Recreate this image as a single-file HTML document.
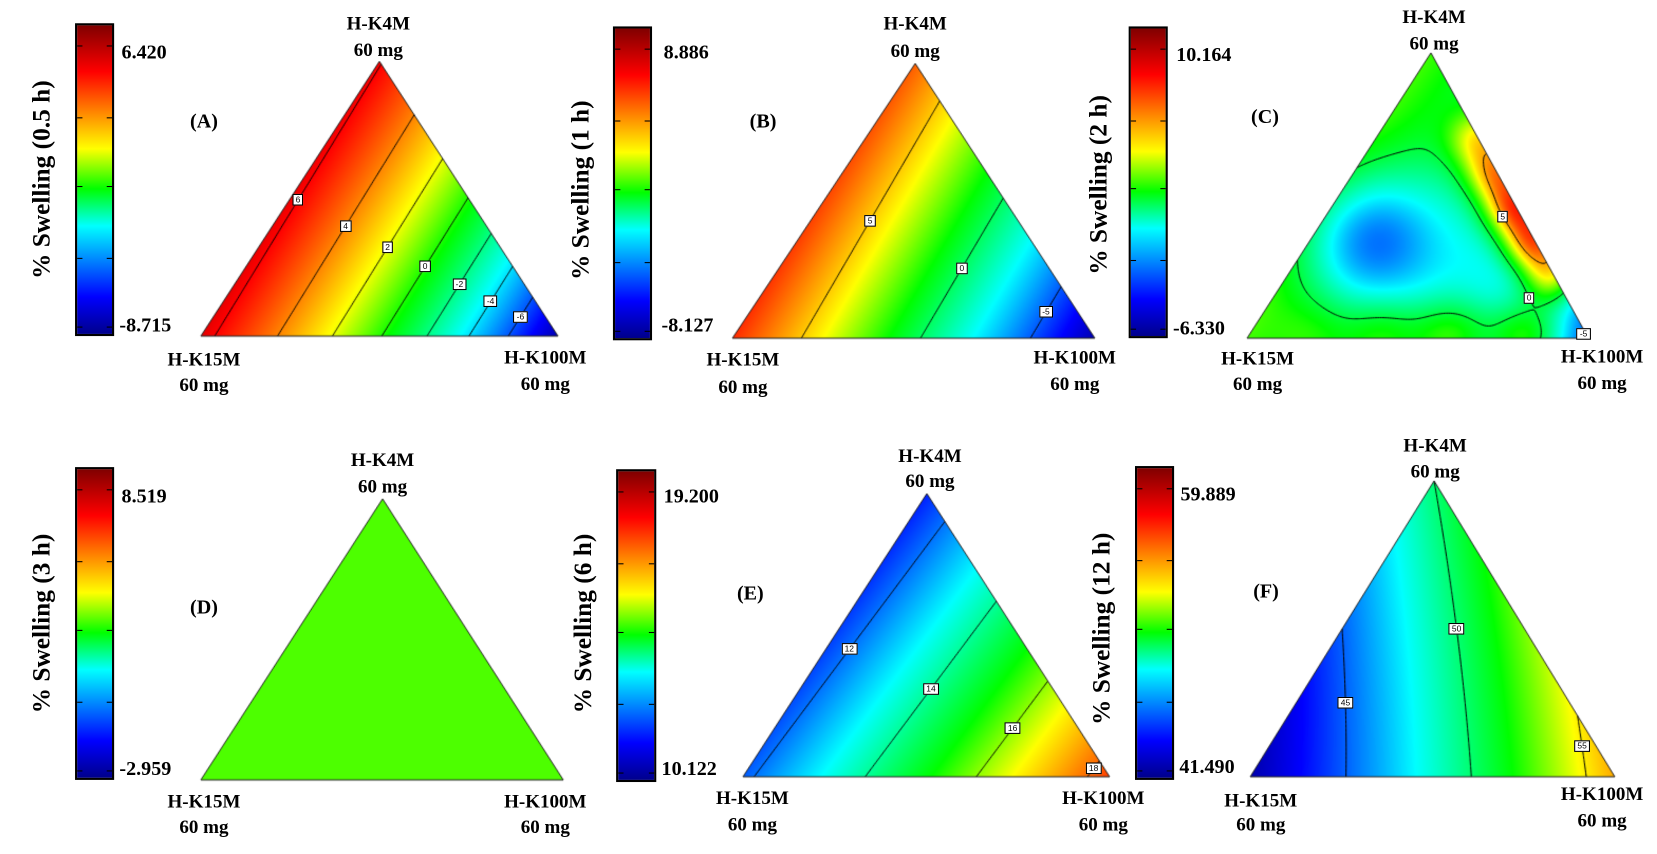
<!DOCTYPE html>
<html><head><meta charset="utf-8">
<style>
body{margin:0;background:#fff;width:1657px;height:853px;overflow:hidden;}
#wrap{position:absolute;left:0;top:0;width:1568px;height:808px;transform:scale(1.0568);transform-origin:0 0;overflow:hidden;background:#fff;font-family:"Liberation Serif",serif;font-weight:bold;color:#000;}
.t{position:absolute;white-space:nowrap;transform:translate(-50%,-50%);font-size:18px;line-height:1;}
.v{position:absolute;white-space:nowrap;transform:translateY(-50%);font-size:19px;line-height:1;}
.ttl{position:absolute;white-space:nowrap;transform:translate(-50%,-50%) rotate(-90deg);font-size:24px;line-height:1;}
.let{position:absolute;white-space:nowrap;transform:translate(-50%,-50%);font-size:19px;line-height:1;}
.bar{position:absolute;border:2px solid #000;box-sizing:border-box;
background:linear-gradient(to top,rgb(0,0,140) 0%,rgb(0,0,255) 12%,rgb(0,255,255) 35%,rgb(0,255,0) 47%,rgb(255,255,0) 60%,rgb(255,0,0) 85%,rgb(128,0,0) 100%);}
.tick{position:absolute;width:5px;height:1px;background:#000;}
.cl{position:absolute;transform:translate(-50%,-50%);background:#fff;border:1px solid #000;font-family:"Liberation Sans",sans-serif;font-weight:normal;font-size:8px;line-height:9px;padding:0 2px;}
canvas{position:absolute;left:0;top:0;}
</style></head><body>
<div id="wrap">
<canvas id="cv" width="1568" height="808"></canvas>
</div>
<script>
// Mixture model coefficients: [b1(K4M), b2(K15M), b3(K100M), b12, b13, b23, b123, g13, g23]
const coefA = [6.1, 6.4, -8.7, 0, 5, 5, 0, 0, 0];
const coefB = [6.8, 7.7, -8.1, 0, 2, 2, 0, 0, 0];
const coefC = [1.5, 1.5, -6.0, 0, 0, 0, 0, 0, 0];
const coefD = [4.0, 4.0, 4.0, 0, 0, 0, 0, 0, 0];
const coefE = [11.3, 11.8, 18.4, 0, 0, 0, 0, 0, 0];
const coefF = [50, 41.5, 56.3, -3, 0, -2, 0, 0, 0];
// local response features for panel C (barycentric centres, amplitudes, widths)
const bumpCentersC = [[0.35,0.48,0.17],
  [0.70,0,0.30],[0.58,0,0.42],[0.46,0,0.54],[0.34,0,0.66],[0.22,0,0.78],
  [0,0.8,0.2],[0,0.6,0.4],[0,0.4,0.6],[0,0.18,0.82]];
const bumpAmpsC = [-5.0, 4, 5.7, 7.5, 7.8, 6.3, 1.3, 2.7, 4, 5.4];
const bumpWidthsC = [0.2, 0.09, 0.09, 0.09, 0.09, 0.09, 0.12, 0.12, 0.12, 0.12];
const rangeA = [-8.715, 6.420];
const rangeB = [-8.127, 8.886];
const rangeC = [-6.330, 10.164];
const rangeD = [-2.959, 8.519];
const rangeE = [10.122, 19.200];
const rangeF = [41.490, 59.889];
const levelsA = [-6, -4, -2, 0, 2, 4, 6];
const levelsB = [-5, 0, 5];
const levelsC = [-5, 0, 5];
const levelsD = [];
const levelsE = [12, 14, 16, 18];
const levelsF = [45, 50, 55];
const titles = ["% Swelling (0.5 h)","% Swelling (1 h)","% Swelling (2 h)","% Swelling (3 h)","% Swelling (6 h)","% Swelling (12 h)"];
const letters = ["(A)","(B)","(C)","(D)","(E)","(F)"];

const noBumps={c:[],a:[],w:[]};
const layout = [
 {id:'a',coef:coefA,bumps:noBumps,range:rangeA,levels:levelsA,shift:0,bar:[71,22,37,296],tri:[[359,58],[190,318],[528,318]],maxY:50,minY:308,maxX:115,minX:113,ttl:[40,170],let:[193,115],top:[358,22,47],left:[193,340,364],right:[516,338,363]},
 {id:'b',coef:coefB,bumps:noBumps,range:rangeB,levels:levelsB,shift:0,bar:[580,25,37,297],tri:[[866,60],[693,320],[1036,320]],maxY:50,minY:308,maxX:628,minX:626,ttl:[550,180],let:[722,115],top:[866,22,48],left:[703,340,366],right:[1017,338,363]},
 {id:'c',coef:coefC,bumps:{c:bumpCentersC,a:bumpAmpsC,w:bumpWidthsC},range:rangeC,levels:levelsC,shift:2,bar:[1068,25,37,295],tri:[[1354,50],[1180,320],[1503,320]],maxY:52,minY:311,maxX:1113,minX:1110,ttl:[1040,175],let:[1197,111],top:[1357,16,41],left:[1190,339,363],right:[1516,337,362]},
 {id:'d',coef:coefD,bumps:noBumps,range:rangeD,levels:levelsD,shift:0,bar:[71,442,37,296],tri:[[362,472],[190,738],[533,738]],maxY:470,minY:728,maxX:115,minX:113,ttl:[40,590],let:[193,575],top:[362,435,460],left:[193,758,782],right:[516,758,782]},
 {id:'e',coef:coefE,bumps:noBumps,range:rangeE,levels:levelsE,shift:0,bar:[583,444,38,296],tri:[[877,467],[703,735],[1050,735]],maxY:470,minY:728,maxX:628,minX:626,ttl:[552,590],let:[710,562],top:[880,431,455],left:[712,755,780],right:[1044,755,780]},
 {id:'f',coef:coefF,bumps:noBumps,range:rangeF,levels:levelsF,shift:0,bar:[1074,441,37,297],tri:[[1357,455],[1183,735],[1528,735]],maxY:468,minY:726,maxX:1117,minX:1116,ttl:[1043,595],let:[1198,560],top:[1358,421,446],left:[1193,757,780],right:[1516,751,776]}
];

const stops=[[0,[0,0,140]],[0.12,[0,0,255]],[0.33,[0,255,255]],[0.52,[0,255,0]],[0.66,[255,255,0]],[0.88,[255,0,0]],[1,[128,0,0]]];
function cmap(p){p=Math.max(0,Math.min(1,p));for(let i=1;i<stops.length;i++){if(p<=stops[i][0]){const a=stops[i-1],b=stops[i];const f=(p-a[0])/(b[0]-a[0]);return [0,1,2].map(k=>a[1][k]+(b[1][k]-a[1][k])*f);}}return stops[stops.length-1][1];}
function cart(x1,x2,x3){return [x3+0.5*x1,0.866*x1];}
function field(c,B,x1,x2,x3){
  let v=c[0]*x1+c[1]*x2+c[2]*x3+c[3]*x1*x2+c[4]*x1*x3+c[5]*x2*x3+c[6]*x1*x2*x3+c[7]*x1*x3*(x1-x3)+c[8]*x2*x3*(x2-x3);
  if(B.c.length){const p=cart(x1,x2,x3);for(let i=0;i<B.c.length;i++){const q=cart(B.c[i][0],B.c[i][1],B.c[i][2]);const d2=(p[0]-q[0])**2+(p[1]-q[1])**2;v+=B.a[i]*Math.exp(-d2/(B.w[i]*B.w[i]));}}
  return v;}
function colorPos(v,r){return 0.034+0.871*(v-r[0])/(r[1]-r[0]);}

const wrap=document.getElementById('wrap');
const cv=document.getElementById('cv');const ctx=cv.getContext('2d');
function addDiv(cls,txt,x,y){const d=document.createElement('div');d.className=cls;d.textContent=txt;d.style.left=x+'px';d.style.top=y+'px';wrap.appendChild(d);return d;}

layout.forEach((P,pi)=>{
  const [A,L,R]=P.tri;
  const x0=Math.floor(Math.min(L[0],A[0])),x1=Math.ceil(R[0]),y0=Math.floor(A[1]),y1=Math.ceil(L[1]);
  const img=ctx.getImageData(x0,y0,x1-x0+1,y1-y0+1);const W=x1-x0+1;
  const det=(L[1]-R[1])*(A[0]-R[0])+(R[0]-L[0])*(A[1]-R[1]);
  for(let y=y0;y<=y1;y++)for(let x=x0;x<=x1;x++){
    const px=x+0.5,py=y+0.5;
    const a=((L[1]-R[1])*(px-R[0])+(R[0]-L[0])*(py-R[1]))/det;
    const b=((R[1]-A[1])*(px-R[0])+(A[0]-R[0])*(py-R[1]))/det;
    const c=1-a-b;
    if(a<0||b<0||c<0)continue;
    const col=cmap(colorPos(field(P.coef,P.bumps,a,b,c)+P.shift,P.range));
    const k=((y-y0)*W+(x-x0))*4;img.data[k]=col[0];img.data[k+1]=col[1];img.data[k+2]=col[2];img.data[k+3]=255;
  }
  ctx.putImageData(img,x0,y0);
  const N=140;
  function pt(i,j){const a=1-i/N,b=(i-j)/N,c=j/N;return {x:a*A[0]+b*L[0]+c*R[0],y:a*A[1]+b*L[1]+c*R[1],v:field(P.coef,P.bumps,a,b,c)};}
  const grid=[];for(let i=0;i<=N;i++){grid[i]=[];for(let j=0;j<=i;j++)grid[i][j]=pt(i,j);}
  ctx.strokeStyle='#000';ctx.lineWidth=1;
  P.levels.forEach(lv0=>{
    const lv=lv0+1.37e-6;
    const segs=[];
    function tri(p,q,r){const ps=[p,q,r],cr=[];for(let k=0;k<3;k++){const u=ps[k],w=ps[(k+1)%3];if((u.v-lv)*(w.v-lv)<0){const f=(lv-u.v)/(w.v-u.v);cr.push([u.x+(w.x-u.x)*f,u.y+(w.y-u.y)*f]);}}if(cr.length==2)segs.push(cr);}
    for(let i=0;i<N;i++)for(let j=0;j<=i;j++){tri(grid[i][j],grid[i+1][j],grid[i+1][j+1]);if(j<i)tri(grid[i][j],grid[i+1][j+1],grid[i][j+1]);}
    ctx.beginPath();segs.forEach(s=>{ctx.moveTo(s[0][0],s[0][1]);ctx.lineTo(s[1][0],s[1][1]);});ctx.stroke();
    if(segs.length){const srt=segs.map(s=>[(s[0][0]+s[1][0])/2,(s[0][1]+s[1][1])/2]).sort((p,q)=>p[1]-q[1]);const m=srt[Math.floor(srt.length/2)];
      const d=addDiv('cl',String(lv0),m[0],m[1]);
      
      }
  });
  ctx.beginPath();ctx.moveTo(A[0],A[1]);ctx.lineTo(L[0],L[1]);ctx.lineTo(R[0],R[1]);ctx.closePath();ctx.strokeStyle='#222';ctx.stroke();
  const bar=document.createElement('div');bar.className='bar';
  bar.style.left=P.bar[0]+'px';bar.style.top=P.bar[1]+'px';bar.style.width=P.bar[2]+'px';bar.style.height=P.bar[3]+'px';
  
  
  wrap.appendChild(bar);
  [0.07,0.30,0.52,0.75,0.97].forEach(f=>{[0,1].forEach(side=>{const t=document.createElement('div');t.className='tick';t.style.top=(P.bar[1]+f*P.bar[3])+'px';t.style.left=(side?P.bar[0]+P.bar[2]-7:P.bar[0]+2)+'px';
    
    
    wrap.appendChild(t);});});
  let d;
  d=addDiv('v',P.range[1].toFixed(3),P.maxX,P.maxY);
  
  
  d=addDiv('v',P.range[0].toFixed(3),P.minX,P.minY);
  
  
  d=addDiv('ttl',titles[pi],P.ttl[0],P.ttl[1]);
  
  
  d=addDiv('let',letters[pi],P.let[0],P.let[1]);
  
  
  const vl=[['H-K4M',P.top[0],P.top[1],'top'],['60 mg',P.top[0],P.top[2],'top-dose'],['H-K15M',P.left[0],P.left[1],'left'],['60 mg',P.left[0],P.left[2],'left-dose'],['H-K100M',P.right[0],P.right[1],'right'],['60 mg',P.right[0],P.right[2],'right-dose']];
  vl.forEach(q=>{const e=addDiv('t',q[0],q[1],q[2]);
    
    });
});
</script>
</body></html>
